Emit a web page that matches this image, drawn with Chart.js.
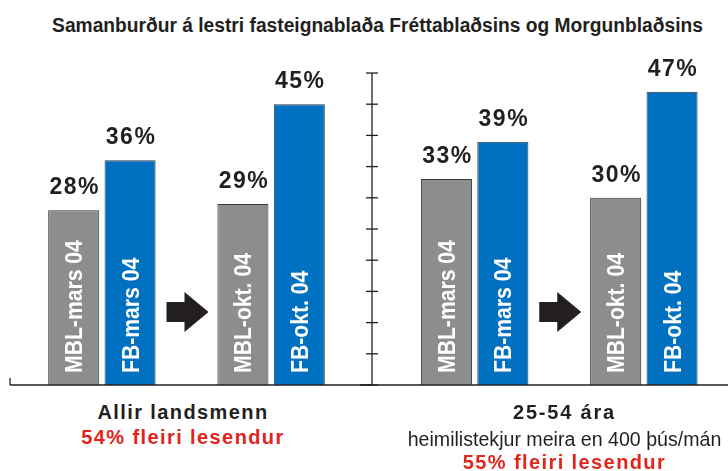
<!DOCTYPE html>
<html><head><meta charset="utf-8">
<script src="https://cdn.jsdelivr.net/npm/chart.js@4"></script>
<style>
html,body{margin:0;padding:0;background:#fff;width:728px;height:471px;overflow:hidden;position:relative}
.wrap{position:absolute;top:0}
.t{position:absolute;white-space:nowrap;text-align:center;color:#231f20;line-height:1}
#title{left:0;width:755px;top:14px;font:bold 20px 'Liberation Sans',Arial,sans-serif;transform:scaleX(0.96);transform-origin:377.5px 0}
.b{font:bold 20px 'Liberation Sans',Arial,sans-serif;letter-spacing:1.4px}
.r{color:#e1251b;letter-spacing:1.4px}
.n{font:19.6px 'Liberation Sans',Arial,sans-serif}
</style></head><body>
<div class="t" id="title">Samanburður á lestri fasteignablaða Fréttablaðsins og Morgunblaðsins</div>
<div class="wrap" style="left:0"><canvas id="cl" width="372" height="400"></canvas></div>
<div class="wrap" style="left:360px"><canvas id="cr" width="368" height="400"></canvas></div>
<div class="t b" id="p0a" style="left:0;width:366px;top:401px"></div>
<div class="t b r" id="p0c" style="left:0;width:366px;top:426px"></div>
<div class="t b" id="p1a" style="left:401px;width:327px;top:401px;letter-spacing:1.8px"></div>
<div class="t n" id="p1b" style="left:401px;width:327px;top:428px"></div>
<div class="t b r" id="p1c" style="left:401px;width:327px;top:451px"></div>
<script>
// ---- data ----
const categories = ['MBL-mars 04', 'FB-mars 04', 'MBL-okt. 04', 'FB-okt. 04'];
const allirValues = [28, 36, 29, 45];
const age2554Values = [33, 39, 30, 47];
const yMin = 0, yMax = 50, yStep = 5;
const panelTitles = ['Allir landsmenn', '25-54 ára'];
const panelSubtitles = ['', 'heimilistekjur meira en 400 þús/mán'];
const panelNotes = ['54% fleiri lesendur', '55% fleiri lesendur'];
const seriesColors = ['#8c8d8f', '#0070c0'];

document.getElementById('p0a').textContent = panelTitles[0];
document.getElementById('p0c').textContent = panelNotes[0];
document.getElementById('p1a').textContent = panelTitles[1];
document.getElementById('p1b').textContent = panelSubtitles[1];
document.getElementById('p1c').textContent = panelNotes[1];

const INK = '#231f20';

// insert an empty slot between the two pairs (where the arrow goes)
function slots(arr) { return [arr[0], arr[1], null, arr[2], arr[3]]; }

const decoPlugin = {
  id: 'deco',
  afterDatasetsDraw(chart, args, opts) {
    const ctx = chart.ctx;
    const xs = chart.scales.x, ys = chart.scales.y;
    const base = ys.getPixelForValue(0);
    ctx.save();
    ctx.strokeStyle = INK;
    ctx.lineWidth = 1.3;
    // baseline
    ctx.beginPath();
    ctx.moveTo(opts.lineFrom, base);
    ctx.lineTo(opts.lineTo, base);
    ctx.stroke();
    if (opts.stubX !== undefined) {
      ctx.beginPath();
      ctx.moveTo(opts.stubX, base);
      ctx.lineTo(opts.stubX, base - 7);
      ctx.stroke();
    }
    if (opts.axisX !== undefined) {
      const ax = opts.axisX;
      ctx.beginPath();
      ctx.moveTo(ax, ys.getPixelForValue(yMin));
      ctx.lineTo(ax, ys.getPixelForValue(yMax));
      ctx.stroke();
      ys.ticks.forEach(t => {
        const py = ys.getPixelForValue(t.value);
        ctx.beginPath();
        ctx.moveTo(ax - 6, py);
        ctx.lineTo(ax + 6, py);
        ctx.stroke();
      });
    }
    // arrow in empty slot
    const cx = xs.getPixelForValue(2) + 1;
    const cy = base - 73;
    const x0 = cx - 21;
    ctx.fillStyle = INK;
    ctx.beginPath();
    ctx.moveTo(x0, cy - 10);
    ctx.lineTo(x0 + 18, cy - 10);
    ctx.lineTo(x0 + 18, cy - 20);
    ctx.lineTo(x0 + 42, cy);
    ctx.lineTo(x0 + 18, cy + 20);
    ctx.lineTo(x0 + 18, cy + 10);
    ctx.lineTo(x0, cy + 10);
    ctx.closePath();
    ctx.fill();
    // labels
    const meta = chart.getDatasetMeta(0);
    const data = chart.data.datasets[0].data;
    meta.data.forEach((bar, i) => {
      const v = data[i];
      if (v === null || v === undefined) return;
      // value label
      ctx.fillStyle = INK;
      ctx.font = "bold 23px 'Liberation Sans', Arial, sans-serif";
      ctx.letterSpacing = '1.5px';
      ctx.textAlign = 'center';
      ctx.textBaseline = 'alphabetic';
      ctx.fillText(v + '%', bar.x + 1, bar.y - 16);
      // rotated category label
      ctx.letterSpacing = '0px';
      ctx.save();
      ctx.translate(bar.x, base - 12);
      ctx.rotate(-Math.PI / 2);
      ctx.scale(0.92, 1);
      ctx.fillStyle = '#ffffff';
      ctx.font = "bold 23px 'Liberation Sans', Arial, sans-serif";
      ctx.textAlign = 'left';
      ctx.fillText(chart.data.labels[i], 0, 8.5);
      ctx.restore();
    });
    ctx.restore();
  }
};

function makeChart(id, values, padding, deco) {
  const labels = [categories[0], categories[1], '', categories[2], categories[3]];
  const colors = [seriesColors[0], seriesColors[1], 'rgba(0,0,0,0)', seriesColors[0], seriesColors[1]];
  return new Chart(document.getElementById(id), {
    type: 'bar',
    data: {
      labels,
      datasets: [{
        data: slots(values),
        backgroundColor: colors,
        borderColor: '#3a3a3a',
        borderWidth: 1,
        categoryPercentage: 1,
        barPercentage: 0.905
      }]
    },
    options: {
      responsive: false,
      animation: false,
      layout: { padding },
      plugins: { legend: { display: false }, tooltip: { enabled: false }, deco },
      scales: {
        x: { display: false },
        y: { display: false, min: yMin, max: yMax, ticks: { stepSize: yStep } }
      }
    },
    plugins: [decoPlugin]
  });
}

makeChart('cl', allirValues, { left: 45.5, right: 44.5, top: 73, bottom: 15 },
  { lineFrom: 10, lineTo: 372, stubX: 10 });
makeChart('cr', age2554Values, { left: 58.25, right: 27.75, top: 73, bottom: 15 },
  { lineFrom: 0, lineTo: 368, axisX: 12 });
</script>
</body></html>
